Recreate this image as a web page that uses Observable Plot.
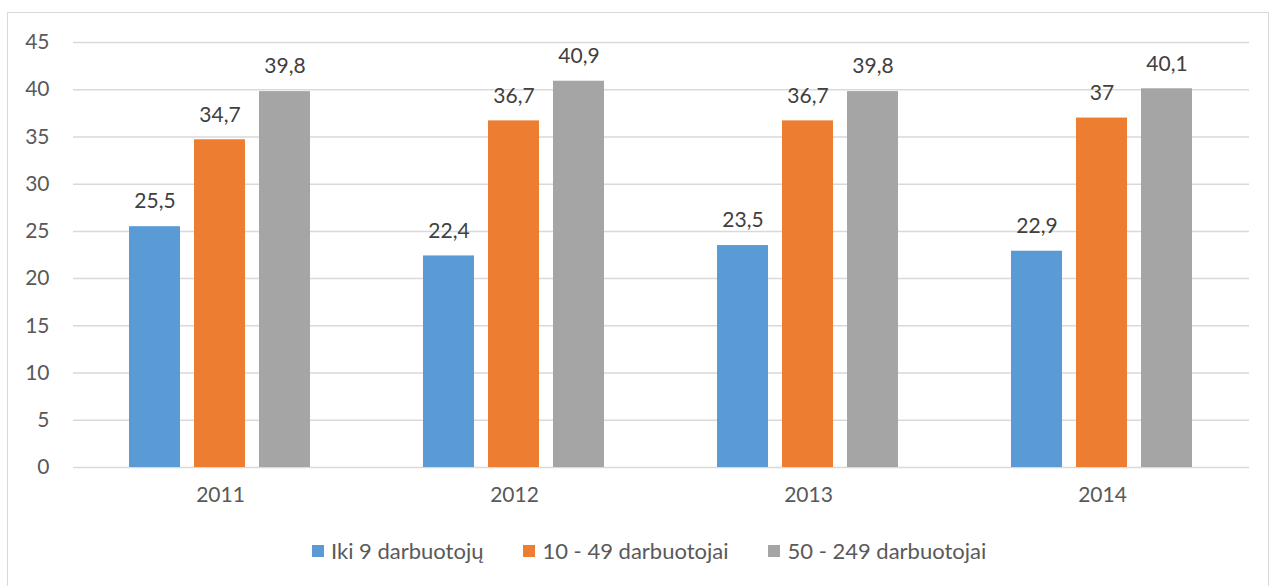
<!DOCTYPE html>
<html>
<head>
<meta charset="utf-8">
<script src="https://cdn.jsdelivr.net/npm/d3@7"></script>
<script src="https://cdn.jsdelivr.net/npm/@observablehq/plot@0.6"></script>
<style>
  html, body { margin: 0; padding: 0; background: #fff; width: 1270px; height: 586px; overflow: hidden; }
  #frame { position: absolute; left: 7px; top: 12px; width: 1262px; height: 590px; border: 1.5px solid #d9d9d9; box-sizing: border-box; }
  #chart { position: absolute; left: 0; top: 0; }
  #legend { position: absolute; left: 312px; top: 537px; }
  #legend > div { font-family: Lato, sans-serif; font-size: 22px; color: #595959; margin: 0; min-height: 0; }
  #legend span[class$="-swatch"] { margin-right: 40px; }
  #legend span[class$="-swatch"] svg { margin-right: 7px; }
</style>
</head>
<body>
<div id="frame"></div>
<div id="chart"></div>
<div id="legend"></div>
<script>
const years = ["2011", "2012", "2013", "2014"];
const series = ["Iki 9 darbuotojų", "10 - 49 darbuotojai", "50 - 249 darbuotojai"];
const colors = ["#5B9BD5", "#ED7D31", "#A5A5A5"];
const iki9 = [25.5, 22.4, 23.5, 22.9];
const s10_49 = [34.7, 36.7, 36.7, 37];
const s50_249 = [39.8, 40.9, 39.8, 40.1];
const yTicks = [0, 5, 10, 15, 20, 25, 30, 35, 40, 45];

const seriesValues = [iki9, s10_49, s50_249];
const data = [];
years.forEach((yr, i) => {
  series.forEach((s, j) => {
    data.push({year: yr, series: s, value: seriesValues[j][i]});
  });
});
const fmt = v => String(v).replace(".", ",");

const chart = Plot.plot({
  width: 1270,
  height: 520,
  marginLeft: 72,
  marginRight: 20,
  marginTop: 42,
  marginBottom: 53,
  style: {fontFamily: "Lato, sans-serif", fontSize: "21px", color: "#595959", background: "transparent", overflow: "visible"},
  fx: {domain: years, padding: 0, label: null, tickSize: 0, tickPadding: 20, axis: "bottom"},
  x: {domain: series, axis: null, paddingInner: 0.215, paddingOuter: 0, insetLeft: 56, insetRight: 56},
  y: {domain: [0, 45], label: null},
  color: {domain: series, range: colors},
  marks: [
    Plot.gridY(yTicks, {stroke: "#d9d9d9", strokeOpacity: 1, strokeWidth: 1.5}),
    Plot.axisY(yTicks, {tickSize: 0, tickPadding: 24, label: null, fill: "#595959", fontSize: 21}),
    Plot.barY(data, {fx: "year", x: "series", y: "value", fill: "series"}),
    Plot.text(data, {fx: "year", x: "series", y: "value", text: d => fmt(d.value), dy: -25, fill: "#404040", fontSize: 21})
  ]
});
document.getElementById("chart").appendChild(chart);

const legend = Plot.legend({
  color: {domain: series, range: colors},
  swatchSize: 12,
  style: {fontFamily: "Lato, sans-serif", fontSize: "22px", color: "#595959"}
});
document.getElementById("legend").appendChild(legend);
</script>
</body>
</html>
